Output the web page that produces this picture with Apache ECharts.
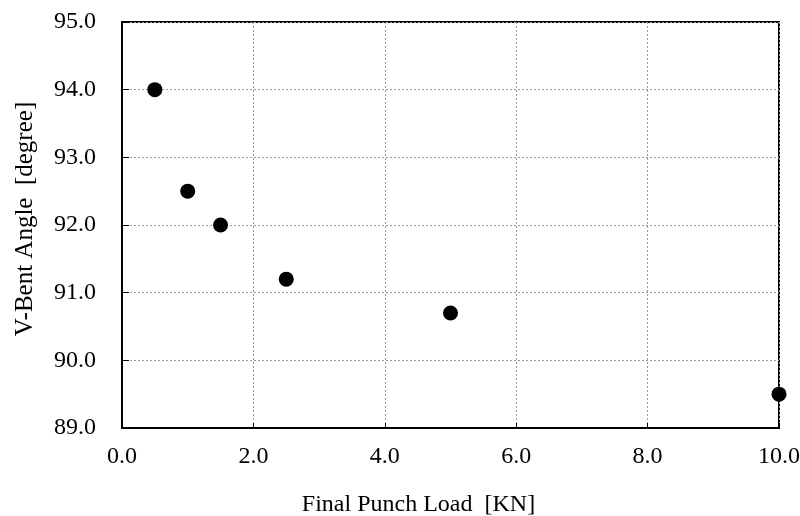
<!DOCTYPE html>
<html>
<head>
<meta charset="utf-8">
<script src="https://cdn.jsdelivr.net/npm/echarts@6/dist/echarts.min.js"></script>
<style>
  html, body { margin: 0; padding: 0; background: #fff; }
  #chart { width: 800px; height: 516px; }
</style>
</head>
<body>
<div id="chart"></div>
<script>
// punch load [KN] vs bent angle [degree]
const punchLoad = [0.5, 1.0, 1.5, 2.5, 5.0, 10.0];
const bentAngle = [94.0, 92.5, 92.0, 91.2, 90.7, 89.5];

const font = "'Liberation Serif', 'Times New Roman', serif";
const chart = echarts.init(document.getElementById("chart"));

const option = {
  backgroundColor: "#fff",
  animation: false,
  grid: {
    left: 122, right: 21, top: 22, bottom: 88,
    outerBoundsMode: "none",
    show: true, borderColor: "#000", borderWidth: 2
  },
  xAxis: {
    type: "value",
    min: 0, max: 10, interval: 2,
    name: "Final Punch Load  [KN]",
    nameLocation: "middle",
    nameGap: 65,
    nameTextStyle: { fontFamily: font, fontSize: 24, color: "#000", padding: [0, 64, 0, 0] },
    axisLine: { lineStyle: { color: "#000", width: 2 } },
    axisTick: { inside: true, length: 5, lineStyle: { color: "#000" } },
    axisLabel: {
      margin: 17, fontFamily: font, fontSize: 24, color: "#000",
      formatter: (v) => v.toFixed(1)
    },
    splitLine: { lineStyle: { color: "#999", type: [2, 2], width: 1 } }
  },
  yAxis: {
    type: "value",
    min: 89, max: 95, interval: 1,
    name: "V-Bent Angle  [degree]",
    nameLocation: "middle",
    nameGap: 84,
    nameTextStyle: { fontFamily: font, fontSize: 25, color: "#000", padding: [0, 0, 0, 12] },
    axisLine: { show: true, lineStyle: { color: "#000", width: 2 } },
    axisTick: { show: true, inside: true, length: 7, lineStyle: { color: "#000" } },
    axisLabel: {
      margin: 26, fontFamily: font, fontSize: 24, color: "#000",
      formatter: (v) => v.toFixed(1)
    },
    splitLine: { lineStyle: { color: "#999", type: [2, 2], width: 1 } }
  },
  series: [{
    type: "scatter",
    symbol: "circle",
    symbolSize: 15,
    itemStyle: { color: "#000", opacity: 1 },
    data: punchLoad.map((x, i) => [x, bentAngle[i]])
  }]
};

chart.setOption(option);
</script>
</body>
</html>
